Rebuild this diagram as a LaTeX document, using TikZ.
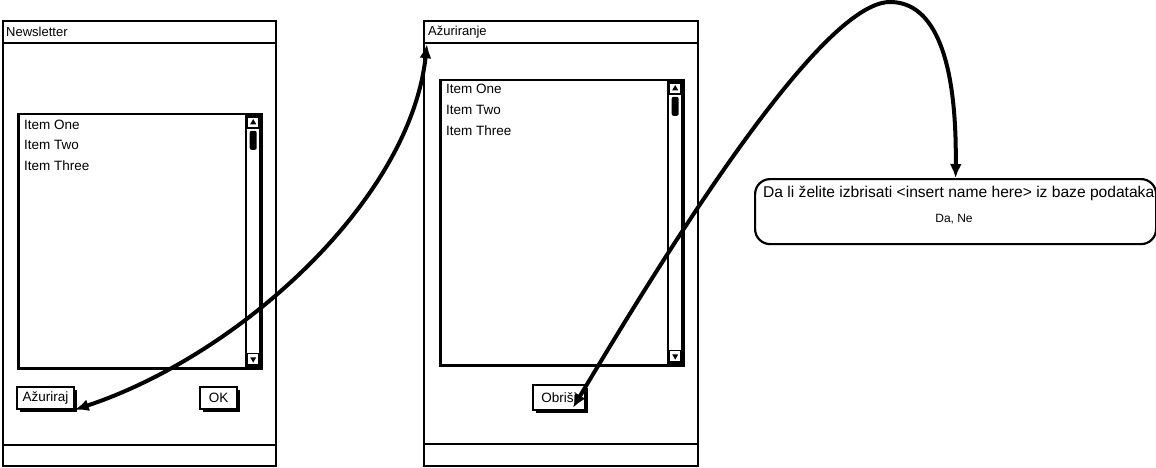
\documentclass[tikz,border=0pt]{standalone}
\usepackage{fontspec}
\setmainfont{Liberation Sans}
\usetikzlibrary{positioning, arrows.meta, shapes.geometric, calc, shadows}

\begin{document}
\begin{tikzpicture}[x=1pt, y=-1pt, >={Latex[length=14pt, width=12pt]}]

\tikzset{
  win/.style={rectangle, draw, line width=2.2pt, inner sep=0pt},
  bar/.style={rectangle, draw, line width=2.2pt, inner sep=0pt},
  ttl/.style={font=\fontsize{13}{15}\selectfont, inner sep=0pt},
  listbox/.style={rectangle, draw, line width=2.5pt, inner sep=0pt},
  item/.style={font=\fontsize{13.5}{16}\selectfont, anchor=west, inner sep=0pt},
  sbar/.style={rectangle, draw, line width=1.6pt, inner sep=0pt, minimum width=14pt},
  sbtn/.style={rectangle, draw, line width=1.1pt, minimum size=11pt, inner sep=0pt},
  tri/.style={regular polygon, regular polygon sides=3, fill, inner sep=0pt, minimum size=7pt},
  thumb/.style={rectangle, rounded corners=2pt, fill, minimum width=7pt, minimum height=19pt, inner sep=0pt},
  button/.style={
    rectangle, draw, line width=1.5pt, fill=white, inner sep=0pt,
    font=\fontsize{13.5}{16}\selectfont, minimum height=22pt,
    drop shadow={shadow xshift=2.5pt, shadow yshift=-2.5pt, fill=black, opacity=1}
  },
  dialog/.style={rectangle, draw, line width=2.2pt, rounded corners=15pt, inner sep=0pt},
  dtxt/.style={font=\fontsize{15.6}{18}\selectfont, inner sep=0pt},
  link/.style={<->, line width=4pt}
}

\useasboundingbox (0,0) rectangle (1156,468);

% ==========================
% Prozor 1: Newsletter
% ==========================
\node[win, anchor=north west, minimum width=273pt, minimum height=445pt] (win1) at (2,20) {};
\node[bar, anchor=north west, minimum width=273pt, minimum height=22pt] (bar1) at (win1.north west) {};
\node[bar, anchor=south west, minimum width=273pt, minimum height=21pt] (bot1) at (win1.south west) {};
\node[ttl, right=4pt of bar1.west] (ttl1) {Newsletter};

\node[listbox, anchor=north west, minimum width=243pt, minimum height=254pt] (list1) at (17,113) {};
\node[item] (it1a) at (24,125) {Item One};
\node[item] (it1b) at (24,145) {Item Two};
\node[item] (it1c) at (24,166) {Item Three};

% scrollbar
\node[sbar, minimum height=250pt, below left=2pt and 1.5pt of list1.north east] (sb1) {};
\node[sbtn, below=1.5pt of sb1.north] (sb1u) {};
\node[tri] (sb1ut) at (sb1u) {};
\node[thumb, below=2pt of sb1u] (sb1th) {};
\node[sbtn, above=1.5pt of sb1.south] (sb1d) {};
\node[tri, shape border rotate=180] (sb1dt) at (sb1d) {};

\node[button, minimum width=57pt] (azur) at (45.5,398) {Ažuriraj};
\node[button, minimum width=37pt] (ok) at (218.5,398) {OK};

% ==========================
% Prozor 2: Ažuriranje
% ==========================
\node[win, anchor=north west, minimum width=274pt, minimum height=445pt] (win2) at (423,20) {};
\node[bar, anchor=north west, minimum width=274pt, minimum height=22pt] (bar2) at (win2.north west) {};
\node[bar, anchor=south west, minimum width=274pt, minimum height=22pt] (bot2) at (win2.south west) {};
\node[ttl, right=5pt of bar2.west] (ttl2) {Ažuriranje};

\node[listbox, anchor=north west, minimum width=243pt, minimum height=285pt] (list2) at (439,79) {};
\node[item] (it2a) at (446,89) {Item One};
\node[item] (it2b) at (446,110) {Item Two};
\node[item] (it2c) at (446,131) {Item Three};

% scrollbar
\node[sbar, minimum height=281pt, below left=2pt and 1.5pt of list2.north east] (sb2) {};
\node[sbtn, below=1.5pt of sb2.north] (sb2u) {};
\node[tri] (sb2ut) at (sb2u) {};
\node[thumb, below=2pt of sb2u] (sb2th) {};
\node[sbtn, above=1.5pt of sb2.south] (sb2d) {};
\node[tri, shape border rotate=180] (sb2dt) at (sb2d) {};

\node[button, minimum width=52pt, minimum height=25pt] (obr) at (559,397.5) {Obriši};

% ==========================
% Dijalog za brisanje
% ==========================
\node[dialog, anchor=north west, minimum width=401pt, minimum height=65pt] (dlg) at (754,178) {};
\node[dtxt, anchor=west] (dq) at (763,193) {Da li želite izbrisati <insert name here> iz baze podataka};
\node[font=\fontsize{12}{14}\selectfont, inner sep=0pt] (dyn) at (954,219) {Da, Ne};

% ==========================
% Veze
% ==========================
\draw[link] (azur.south east) .. controls (240,355) and (410,200) .. ($(bar2.south west)+(4,0)$);
\draw[link] ($(obr.south)+(14,-3)$) .. controls (663,257) and (820,2) .. (890,2)
  .. controls (935,2) and (957,60) .. (dlg.north);

\end{tikzpicture}
\end{document}
